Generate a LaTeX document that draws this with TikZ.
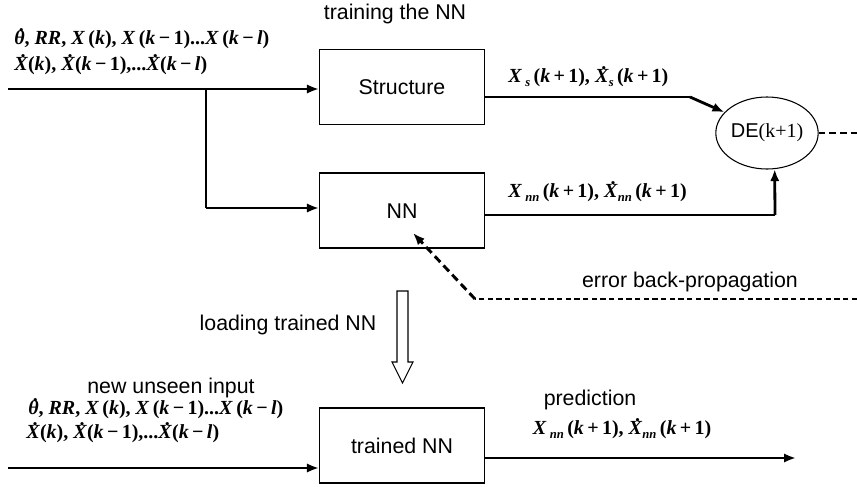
\documentclass[tikz,border=0pt]{standalone}
\usepackage{fontspec}
\setmainfont{Liberation Sans}
\newfontfamily\fmath{Liberation Serif}
\usetikzlibrary{arrows.meta,shapes.geometric}
\newcommand\fv[1]{\textit{#1}}
\newcommand\dt[1]{\setbox0=\hbox{#1}\hbox to\wd0{\hss\kern0.2em\smash{\raisebox{0.66em}{\textup{.}}}\hss}\kern-\wd0\box0}
\newcommand\sbx[1]{\smash{\raisebox{-0.45ex}{\fontsize{9.5}{9.5}\selectfont\textit{#1}}}}
\newcommand\mi{\,−\,}
\newcommand\pl{\,+\,}
\tikzset{
  lbl/.style={font=\fontsize{16}{18}\selectfont, inner sep=0pt},
  frm/.style={font=\fontsize{15}{17}\selectfont\fmath\bfseries, inner sep=0pt},
  box/.style={draw, line width=0.8pt, minimum width=123.75pt, minimum height=56.25pt, inner sep=0pt, font=\fontsize{16}{18}\selectfont},
  thinln/.style={line width=0.9pt},
  thickln/.style={line width=2.1pt},
  tip/.style={-{Latex[length=9pt,width=7pt]}},
}
\begin{document}
\begin{tikzpicture}[x=0.75pt,y=-0.75pt]
\useasboundingbox (0,0) rectangle (857,486);
% boxes
\node[box] (S) at (402,87) {Structure};
\node[box] (NN) at (402,210.5) {};
\node[font=\fontsize{16}{18}\selectfont, inner sep=0pt] (NNt) at (402,211) {NN};
\node[box] (TNN) at (402,445.5) {trained NN};
\node[draw, ellipse, line width=0.8pt, minimum width=68pt, minimum height=54pt, inner sep=0pt] (DE) at (767,133)
  {\fontsize{15}{17}\selectfont DE{\fmath(k+1)}};
% texts
\node[lbl] (t1) at (395,14) {training the NN};
\node[frm, anchor=west] (f1) at (14,40) {\dt{\fv{θ}}, \fv{RR}, \fv{X}\,(\fv{k}), \fv{X}\,(\fv{k}\mi1)...\fv{X}\,(\fv{k}\mi\fv{l})};
\node[frm, anchor=west] (f2) at (14,66) {\dt{\fv{X}}(\fv{k}), \dt{\fv{X}}(\fv{k}\mi1),...\dt{\fv{X}}(\fv{k}\mi\fv{l})};
\node[frm, anchor=west] (fs) at (508,78) {\fv{X}\,\sbx{s}\,(\fv{k}\pl1), \dt{\fv{X}}\sbx{s}\,(\fv{k}\pl1)};
\node[frm, anchor=west] (fn) at (508,193) {\fv{X}\,\sbx{nn}\,(\fv{k}\pl1), \dt{\fv{X}}\sbx{nn}\,(\fv{k}\pl1)};
\node[lbl] (eb) at (690,282) {error back-propagation};
\node[lbl] (ld) at (288,325) {loading trained NN};
\node[lbl] (nu) at (171,388) {new unseen input};
\node[frm, anchor=west] (g1) at (28,410) {\dt{\fv{θ}}, \fv{RR}, \fv{X}\,(\fv{k}), \fv{X}\,(\fv{k}\mi1)...\fv{X}\,(\fv{k}\mi\fv{l})};
\node[frm, anchor=west] (g2) at (26,434) {\dt{\fv{X}}(\fv{k}), \dt{\fv{X}}(\fv{k}\mi1),...\dt{\fv{X}}(\fv{k}\mi\fv{l})};
\node[lbl] (pr) at (590,400) {prediction};
\node[frm] (fp) at (622,430) {\fv{X}\,\sbx{nn}\,(\fv{k}\pl1), \dt{\fv{X}}\sbx{nn}\,(\fv{k}\pl1)};
% coordinates
\coordinate (in1) at (8,89);
\coordinate (br) at (206,89);
\coordinate (s1) at (690,97);
\coordinate (n1) at (775,215);
\coordinate (deout) at (857,133);
\coordinate (e1) at (857,299);
\coordinate (e2) at (475,299);
\coordinate (etip) at (413,233);
\coordinate (in2) at (8,468);
\coordinate (out2) at (796,458);
% connectors
\draw[thickln, tip] (in1) -- (in1 -| S.west);
\draw[thinln] (br) -- (br |- 0,208);
\draw[thickln, tip] (br |- 0,208) -- (NN.west |- 0,208);
\draw[thinln] (S.east |- s1) -- (s1);
\draw[thickln, tip] (s1) -- (DE.154);
\draw[thinln] (NN.east |- n1) -- (n1);
\draw[thickln, tip] (n1) -- (DE.-78);
\draw[thickln, dash pattern=on 5pt off 3pt] (DE.east) -- (deout);
\draw[line width=1.4pt, dash pattern=on 4pt off 2.5pt] (e1) -- (e2);
\draw[line width=2.2pt, dash pattern=on 6pt off 3.5pt, tip] (e2) -- (etip);
\draw[line width=0.8pt] (397,291) -- (408,291) -- (408,362) -- (413,362) -- (402.5,383) -- (392,362) -- (397,362) -- cycle;
\draw[thickln, tip] (in2) -- (in2 -| TNN.west);
\draw[thickln, tip] (TNN.east |- out2) -- (out2);
\end{tikzpicture}
\end{document}
